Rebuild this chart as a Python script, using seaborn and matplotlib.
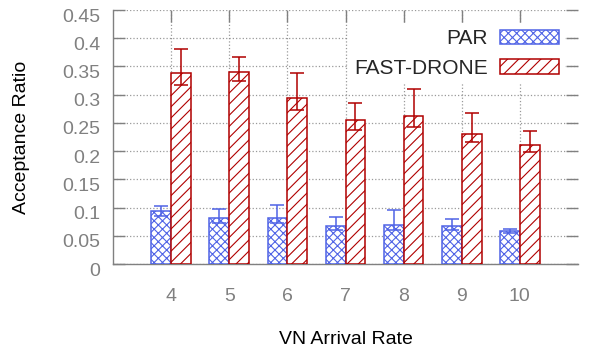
import numpy as np
import pandas as pd
import matplotlib
matplotlib.use('Agg')
import matplotlib.pyplot as plt
import matplotlib.transforms as mtransforms
import seaborn as sns

# Data
rates = ['4', '5', '6', '7', '8', '9', '10']
par_mean = [0.094, 0.081, 0.081, 0.068, 0.069, 0.067, 0.058]
par_low = [0.085, 0.072, 0.072, 0.060, 0.060, 0.060, 0.0555]
par_high = [0.103, 0.097, 0.104, 0.084, 0.096, 0.080, 0.0625]
fast_mean = [0.339, 0.340, 0.294, 0.255, 0.262, 0.230, 0.211]
fast_low = [0.318, 0.325, 0.272, 0.237, 0.242, 0.217, 0.198]
fast_high = [0.381, 0.366, 0.338, 0.286, 0.310, 0.268, 0.235]
methods = ['PAR', 'FAST-DRONE']

blue = '#4f63e6'
red = '#b00000'
gray = '#808080'

sns.set_theme(style='white')
plt.rcParams['font.family'] = ['Liberation Sans', 'DejaVu Sans']
plt.rcParams['hatch.linewidth'] = 0.8

df = pd.DataFrame({
    'rate': rates * 2,
    'ratio': par_mean + fast_mean,
    'method': [methods[0]] * len(rates) + [methods[1]] * len(rates),
})

fig = plt.figure(figsize=(5.9, 3.52), dpi=100)
ax = fig.add_axes([113 / 590, 1 - 264 / 352, 465 / 590, 254 / 352])

sns.barplot(data=df, x='rate', y='ratio', hue='method', hue_order=methods,
            order=rates, errorbar=None, width=0.68, legend=False, ax=ax,
            zorder=3)

styles = [(blue, 'xxxx'), (red, '///')]
errs = [(par_mean, par_low, par_high), (fast_mean, fast_low, fast_high)]
for cont, (col, hatch), (m, lo, hi) in zip(ax.containers, styles, errs):
    for p in cont.patches:
        p.set_facecolor('white')
        p.set_edgecolor(col)
        p.set_hatch(hatch)
        p.set_linewidth(1.1)
    xs = [p.get_x() + p.get_width() / 2 for p in cont.patches]
    m = np.array(m)
    yerr = [m - np.array(lo), np.array(hi) - m]
    ax.errorbar(xs, m, yerr=yerr, fmt='none', ecolor=col, elinewidth=1.1,
                capsize=4.7, capthick=1.1, zorder=4)

ax.set_xlim(-1, 7)
ax.set_ylim(0, 0.45)
ax.set_yticks(np.arange(0, 0.451, 0.05))
ax.set_yticklabels(['0', '0.05', '0.1', '0.15', '0.2', '0.25', '0.3', '0.35', '0.4', '0.45'])

ax.grid(True, linestyle=':', color=gray, linewidth=0.9, alpha=0.8)
ax.set_axisbelow(True)

for s in ['top', 'right']:
    ax.spines[s].set_visible(False)
for s in ['left', 'bottom']:
    ax.spines[s].set_color(gray)
    ax.spines[s].set_linewidth(1.0)

ax.tick_params(axis='y', direction='in', length=8.6, width=1, color=gray,
               left=True, right=True, labelsize=14, labelcolor=gray, pad=9)
ax.tick_params(axis='x', direction='in', length=8.6, width=1, color=gray,
               top=True, bottom=False, labelsize=14, labelcolor=gray, pad=17)

# y tick labels sit a few pixels below their ticks in the original
shift = mtransforms.ScaledTranslation(0, -5 / 100, fig.dpi_scale_trans)
for lab in ax.get_yticklabels():
    lab.set_transform(lab.get_transform() + shift)

ax.set_xlabel('VN Arrival Rate', fontsize=14, color='black')
ax.set_ylabel('Acceptance Ratio', fontsize=14, color='black')
ax.xaxis.set_label_coords(0.5, -0.262)
ax.yaxis.set_label_coords(-0.178, 0.5)

leg = ax.legend(ax.containers, methods, loc='upper right',
                bbox_to_anchor=(0.972, 0.948), borderaxespad=0,
                markerfirst=False, fontsize=15, frameon=True,
                facecolor='white', edgecolor='none', framealpha=1,
                handlelength=2.8, handleheight=0.7, handletextpad=0.6,
                labelspacing=0.5, borderpad=0.3, fancybox=False)
leg.set_zorder(5)

fig.savefig('out.png', dpi=100)
